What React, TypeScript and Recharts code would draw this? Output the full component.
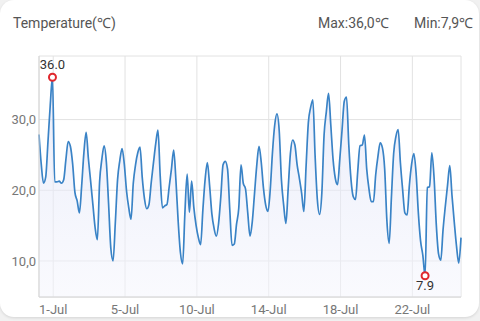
import React from "react";
import { Area, AreaChart, CartesianGrid, XAxis, YAxis } from "recharts";

// 3-hourly readings, first one 19h before 1-Jul 00:00
const startHour = -19;
const stepHours = 3;

const temps = [
    27.9, 23.7, 21.0, 21.9, 26.9, 32.0, 36.0, 21.2, 21.2, 21.3,
    21.0, 21.5, 24.4, 26.9, 26.2, 23.7, 19.7, 18.5, 16.8, 20.6,
    25.3, 28.2, 24.5, 21.3, 18.0, 14.7, 13.0, 21.2, 24.4, 26.3,
    24.0, 18.1, 11.8, 10.0, 15.4, 21.5, 24.2, 25.9, 23.7, 19.9,
    17.5, 15.9, 21.0, 23.6, 25.3, 26.1, 21.8, 18.8, 17.4, 18.0,
    21.1, 23.9, 26.6, 28.5, 22.0, 17.5, 17.8, 18.0, 20.5, 23.0,
    25.7, 21.4, 15.6, 11.2, 9.6, 16.8, 22.3, 16.9, 21.3, 17.5,
    15.0, 13.3, 12.3, 17.2, 21.5, 23.9, 20.7, 16.7, 14.6, 13.5,
    15.3, 19.1, 23.6, 24.1, 23.0, 17.2, 12.2, 12.4, 15.2, 17.5,
    23.6, 21.0, 20.2, 16.8, 13.5, 15.5, 19.5, 23.5, 26.2, 24.0,
    20.3, 17.9, 17.0, 20.0, 25.3, 29.2, 30.8, 28.5, 21.5, 17.9,
    15.3, 20.2, 25.2, 27.1, 26.4, 23.6, 21.7, 19.6, 17.0, 23.5,
    29.6, 31.7, 32.8, 24.9, 18.7, 16.6, 19.6, 27.8, 31.1, 33.7,
    29.2, 24.4, 21.7, 20.8, 24.4, 28.5, 32.6, 33.2, 26.5, 21.5,
    19.1, 18.7, 22.7, 26.3, 26.4, 27.8, 23.0, 20.2, 18.4, 18.4,
    22.2, 24.8, 26.7, 26.0, 23.0, 15.6, 12.5, 19.0, 25.2, 27.6,
    28.6, 23.9, 20.1, 16.8, 16.5, 20.7, 23.7, 25.2, 22.4, 16.8,
    12.8, 10.8, 7.9, 20.4, 20.5, 25.3, 21.8, 15.1, 11.0, 10.1,
    14.4, 17.7, 20.7, 23.5, 19.2, 15.5, 12.1, 9.7, 13.3,
];

const tickDays = [0, 4, 8, 12, 16, 20];
const tickLabels = ["1-Jul", "5-Jul", "10-Jul", "14-Jul", "18-Jul", "22-Jul"];
const yTicks = [10, 20, 30];

const data = temps.map((v, i) => ({ t: startHour + i * stepHours, temp: v }));
const maxVal = Math.max(...temps);
const minVal = Math.min(...temps);
const maxIdx = temps.indexOf(maxVal);
const minIdx = temps.indexOf(minVal);

const comma = (v: number) => v.toFixed(1).replace(".", ",");

function ExtremeDot(props: any) {
    const { cx, cy, index } = props;
    if (index !== maxIdx && index !== minIdx) return <g key={index} />;
    const isMax = index === maxIdx;
    return (
        <g key={index}>
            <circle cx={cx} cy={cy} r={3.5} fill="#fff" stroke="#e0282e" strokeWidth={2} />
            <text
                x={cx}
                y={isMax ? cy - 8 : cy + 14}
                textAnchor="middle"
                fontSize={13}
                fill="#333"
            >
                {temps[index].toFixed(1)}
            </text>
        </g>
    );
}

export default function App() {
    return (
        <div
            style={{
                position: "fixed",
                left: 0,
                top: 0,
                width: 480,
                height: 321,
                background: "#f1f1f1",
                fontFamily: "Roboto, sans-serif",
                overflow: "hidden",
            }}
        >
            <div
                style={{
                    position: "absolute",
                    left: 0,
                    top: 0,
                    width: 479,
                    height: 317,
                    background: "#fff",
                    borderRadius: 14,
                    boxShadow: "0 1px 3px rgba(0,0,0,0.12)",
                }}
            />
            <div style={{ position: "absolute", left: 13, top: 13, fontSize: 14, color: "#555" }}>
                Temperature(℃)
            </div>
            <div style={{ position: "absolute", left: 318, top: 13, fontSize: 14, color: "#555" }}>
                Max:{comma(maxVal)}℃
            </div>
            <div style={{ position: "absolute", left: 414, top: 13, fontSize: 14, color: "#555" }}>
                Min:{comma(minVal)}℃
            </div>
            <div style={{ position: "absolute", left: 0, top: 0 }}>
                <AreaChart width={480} height={321} data={data} margin={{ top: 56, right: 19, bottom: 0, left: 0 }}>
                    <defs>
                        <linearGradient id="tempFill" x1="0" y1="0" x2="0" y2="1">
                            <stop offset="0%" stopColor="#dce0f6" stopOpacity={0.95} />
                            <stop offset="100%" stopColor="#f5f6fd" stopOpacity={0.9} />
                        </linearGradient>
                    </defs>
                    <CartesianGrid stroke="#e2e2e2" />
                    <XAxis
                        dataKey="t"
                        type="number"
                        domain={["dataMin", "dataMax"]}
                        ticks={tickDays.map((d) => d * 24)}
                        tickFormatter={(v) => tickLabels[tickDays.indexOf(v / 24)]}
                        height={24}
                        tickSize={0}
                        tickMargin={8}
                        stroke="#d4d4d4"
                        tick={{ fill: "#777", fontSize: 13 }}
                    />
                    <YAxis
                        domain={[4.9, 39]}
                        ticks={yTicks}
                        tickFormatter={comma}
                        width={39}
                        tickSize={0}
                        tickMargin={3}
                        stroke="#d4d4d4"
                        tick={{ fill: "#777", fontSize: 13 }}
                    />
                    <Area
                        type="monotone"
                        dataKey="temp"
                        stroke="#3a83c6"
                        strokeWidth={1.7}
                        fill="url(#tempFill)"
                        dot={<ExtremeDot />}
                        activeDot={false}
                        isAnimationActive={false}
                    />
                </AreaChart>
            </div>
        </div>
    );
}
